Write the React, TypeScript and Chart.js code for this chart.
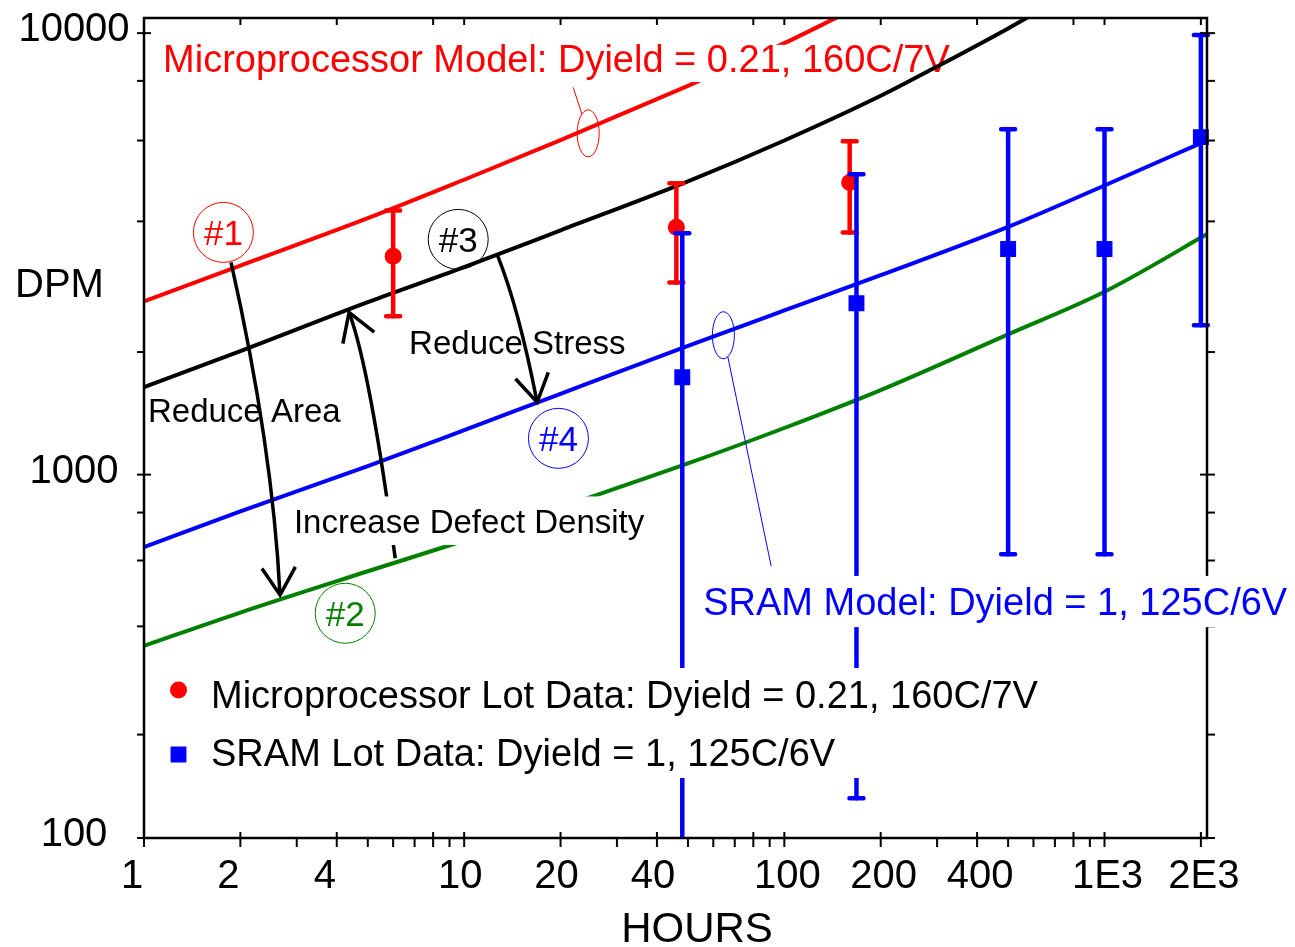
import React, { useEffect, useRef } from 'react';
import { Chart, Scale, registerables } from 'chart.js';

// ---------------------------------------------------------------------------
// Burn-in fallout (DPM) vs. stress hours, plotted on a normal-probability
// DPM axis against logarithmic hours.
// ---------------------------------------------------------------------------

// Model curves
const case1Hours = [1, 2, 5, 10, 20, 50, 100, 150];
const case1Dpm = [2630, 3180, 4065, 4940, 6010, 7815, 9550, 10840];

const case2Hours = [1, 2, 5, 10, 20, 50, 100, 200, 500, 1000, 2000, 2090];
const case2Dpm = [354, 436, 562, 677, 825, 1067, 1308, 1620, 2203, 2770, 3680, 3750];

const case3Hours = [1, 2, 5, 10, 20, 50, 100, 200, 300, 500, 700];
const case3Dpm = [1646, 2010, 2620, 3154, 3820, 4900, 6000, 7450, 8560, 10220, 11550];

const case4Hours = [1, 2, 5, 10, 20, 50, 100, 200, 500, 1000, 2000];
const case4Dpm = [651, 806, 1051, 1292, 1587, 2068, 2507, 3024, 3889, 4800, 5925];

// Lot data with error bars
const microLotHours = [6, 46, 160];
const microLotDpm = [3340, 3883, 4870];
const microLotLow = [2430, 2910, 3780];
const microLotHigh = [4230, 4856, 5980];

const sramLotHours = [48, 168, 500, 1000, 2000];
const sramLotDpm = [1740, 2606, 3467, 3467, 6100];
const sramLotLow = [40, 131, 623, 623, 2314];
const sramLotHigh = [3763, 5080, 6340, 6340, 9910];

// Axis ticks
const xMajorTicks = [1, 2, 4, 8, 10, 20, 40, 80, 100, 200, 400, 800, 1000, 2000];
const xMinorTicks = [3, 5, 6, 7, 9, 30, 50, 60, 70, 90, 300, 500, 600, 700, 900];
const xLabelValues = [1, 2, 4, 10, 20, 40, 100, 200, 400, 1000, 2000];
const xLabelText = ['1', '2', '4', '10', '20', '40', '100', '200', '400', '1E3', '2E3'];

const yMajorTicks = [100, 1000, 10000];
const yMinorTicks = [200, 400, 600, 800, 2000, 4000, 6000, 8000];
const yLabelText = ['100', '1000', '10000'];

const X_MIN = 1;
const X_MAX = 2090;
const Y_MIN = 100;
const Y_MAX = 10720;

// Text
const microModelLabel = 'Microprocessor Model: Dyield = 0.21, 160C/7V';
const sramModelLabel = 'SRAM Model: Dyield = 1, 125C/6V';
const microLotLabel = 'Microprocessor Lot Data: Dyield = 0.21, 160C/7V';
const sramLotLabel = 'SRAM Lot Data: Dyield = 1, 125C/6V';

// Annotation anchors, in data units [hours, DPM]
const microLabelAt = [1.147, 8340];
const sramLabelAt = [55.8, 429];
const reduceAreaAt = [1.029, 1352];
const reduceStressAt = [6.73, 1977];
const defectDensityAt = [2.94, 708];

const case1MarkAt = [1.77, 3780];
const case2MarkAt = [4.25, 434];
const case3MarkAt = [9.58, 3646];
const case4MarkAt = [19.7, 1233];

// start, control, tip
const reduceAreaArrow = [[1.87, 3236], [2.52, 1178], [2.66, 486]];
const defectDensityArrow = [[6.09, 608], [5.09, 1817], [4.37, 2482]];
const reduceStressArrow = [[12.7, 3360], [14.8, 2540], [16.9, 1513]];

const microCalloutCenter = [24.4, 6215];
const microCalloutTail = [21.9, 7760];
const sramCalloutCenter = [64.5, 2192];
const sramCalloutTail = [91.0, 579];

// Styles
const RED = '#ff0000';
const BLUE = '#0000ff';
const GREEN = '#008000';
const BLACK = '#000000';
const FONT_FAMILY = '"Liberation Sans", Arial, Helvetica, sans-serif';
const font = (size: number) => `${size}px ${FONT_FAMILY}`;
const X_LABEL_NUDGE: Record<number, number> = { 1: -12, 2: -4, 3: 3 };

// Dataset indices
const DS_CASE1 = 0;
const DS_CASE3 = 1;
const DS_CASE4 = 2;
const DS_CASE2 = 3;
const DS_MICRO_LOT = 4;
const DS_SRAM_LOT = 5;

// ---------------------------------------------------------------------------
// Normal-probability helpers
// ---------------------------------------------------------------------------
function probit(p: number): number {
  const a = [-3.969683028665376e1, 2.209460984245205e2, -2.759285104469687e2, 1.38357751867269e2, -3.066479806614716e1, 2.506628277459239];
  const b = [-5.447609879822406e1, 1.615858368580409e2, -1.556989798598866e2, 6.680131188771972e1, -1.328068155288572e1];
  const c = [-7.784894002430293e-3, -3.223964580411365e-1, -2.400758277161838, -2.549732539343734, 4.374664141464968, 2.938163982698783];
  const d = [7.784695709041462e-3, 3.224671290700398e-1, 2.445134137142996, 3.754408661907416];
  const pLow = 0.02425;
  if (p <= 0) return -40;
  if (p >= 1) return 40;
  if (p < pLow) {
    const q = Math.sqrt(-2 * Math.log(p));
    return (((((c[0] * q + c[1]) * q + c[2]) * q + c[3]) * q + c[4]) * q + c[5]) /
      ((((d[0] * q + d[1]) * q + d[2]) * q + d[3]) * q + 1);
  }
  if (p <= 1 - pLow) {
    const q = p - 0.5;
    const r = q * q;
    return ((((((a[0] * r + a[1]) * r + a[2]) * r + a[3]) * r + a[4]) * r + a[5]) * q) /
      (((((b[0] * r + b[1]) * r + b[2]) * r + b[3]) * r + b[4]) * r + 1);
  }
  const q = Math.sqrt(-2 * Math.log(1 - p));
  return -(((((c[0] * q + c[1]) * q + c[2]) * q + c[3]) * q + c[4]) * q + c[5]) /
    ((((d[0] * q + d[1]) * q + d[2]) * q + d[3]) * q + 1);
}

function normCdf(z: number): number {
  const t = 1 / (1 + 0.2316419 * Math.abs(z));
  const poly = t * (0.31938153 + t * (-0.356563782 + t * (1.781477937 + t * (-1.821255978 + t * 1.330274429))));
  const tail = Math.exp(-z * z / 2) / Math.sqrt(2 * Math.PI) * poly;
  return z < 0 ? tail : 1 - tail;
}

// Chart.js scale: DPM on a normal-probability (probit) axis
class ProbitScale extends Scale {
  static id = 'probit';
  static defaults = {};

  determineDataLimits() {
    const { min, max } = (this as any).getUserBounds();
    (this as any).min = min;
    (this as any).max = max;
  }

  buildTicks() {
    return yMajorTicks.map((value) => ({ value }));
  }

  getLabelForValue(value: number) {
    return String(value);
  }

  configure() {
    super.configure();
    const self = this as any;
    self._zMin = probit(self.min / 1e6);
    self._zSpan = probit(self.max / 1e6) - self._zMin;
  }

  getPixelForValue(value: number) {
    const self = this as any;
    const v = Math.max(Number(value), 1e-3);
    return self.getPixelForDecimal((probit(v / 1e6) - self._zMin) / self._zSpan);
  }

  getValueForPixel(pixel: number) {
    const self = this as any;
    return 1e6 * normCdf(self._zMin + self.getDecimalForPixel(pixel) * self._zSpan);
  }
}

Chart.register(...registerables, ProbitScale as any);

// ---------------------------------------------------------------------------
// Drawing helpers
// ---------------------------------------------------------------------------
type Pt = { x: number; y: number };

function toPx(chart: any, at: number[]): Pt {
  return { x: chart.scales.x.getPixelForValue(at[0]), y: chart.scales.y.getPixelForValue(at[1]) };
}

function capHeight(size: number) {
  return size * 0.716;
}

function boxedText(ctx: CanvasRenderingContext2D, str: string, x: number, base: number, size: number,
  color: string, padTop: number, padBottom: number, padX: number) {
  ctx.font = font(size);
  const w = ctx.measureText(str).width;
  const cap = capHeight(size);
  ctx.fillStyle = '#ffffff';
  ctx.fillRect(x - padX, base - cap - padTop, w + 2 * padX, cap + padTop + padBottom);
  ctx.fillStyle = color;
  ctx.textAlign = 'left';
  ctx.textBaseline = 'alphabetic';
  ctx.fillText(str, x, base);
}

function plainText(ctx: CanvasRenderingContext2D, str: string, x: number, base: number, size: number, color: string) {
  ctx.font = font(size);
  ctx.fillStyle = color;
  ctx.textAlign = 'left';
  ctx.textBaseline = 'alphabetic';
  ctx.fillText(str, x, base);
}

function drawErrorBars(chart: any, hours: number[], low: number[], high: number[], color: string) {
  const { ctx, chartArea: a, scales } = chart;
  ctx.save();
  ctx.beginPath();
  ctx.rect(a.left - 8, a.top - 8, a.right - a.left + 16, a.bottom - a.top + 8);
  ctx.clip();
  ctx.strokeStyle = color;
  ctx.lineWidth = 4.5;
  ctx.lineCap = 'round';
  hours.forEach((h, i) => {
    const x = scales.x.getPixelForValue(h);
    const yl = scales.y.getPixelForValue(low[i]);
    const yh = scales.y.getPixelForValue(high[i]);
    ctx.beginPath();
    ctx.moveTo(x, yl);
    ctx.lineTo(x, yh);
    ctx.stroke();
    ctx.beginPath();
    ctx.moveTo(x - 7, yh);
    ctx.lineTo(x + 7, yh);
    if (yl < a.bottom) {
      ctx.moveTo(x - 7, yl);
      ctx.lineTo(x + 7, yl);
    }
    ctx.stroke();
  });
  ctx.restore();
}

function drawCallout(chart: any, center: number[], tail: number[], color: string) {
  const ctx = chart.ctx as CanvasRenderingContext2D;
  const c = toPx(chart, center);
  const t = toPx(chart, tail);
  const rx = 11;
  const ry = 23.5;
  ctx.strokeStyle = color;
  ctx.lineWidth = 1;
  ctx.beginPath();
  ctx.ellipse(c.x, c.y, rx, ry, 0, 0, Math.PI * 2);
  ctx.stroke();
  const dx = t.x - c.x;
  const dy = t.y - c.y;
  const s = 1 / Math.sqrt((dx / rx) ** 2 + (dy / ry) ** 2);
  ctx.beginPath();
  ctx.moveTo(c.x + dx * s, c.y + dy * s);
  ctx.lineTo(t.x, t.y);
  ctx.stroke();
}

function drawCurvedArrow(chart: any, pts: number[][]) {
  const ctx = chart.ctx as CanvasRenderingContext2D;
  const [p0, c, p1] = pts.map((p) => toPx(chart, p));
  ctx.strokeStyle = BLACK;
  ctx.lineWidth = 3.5;
  ctx.lineCap = 'butt';
  ctx.lineJoin = 'miter';
  ctx.beginPath();
  ctx.moveTo(p0.x, p0.y);
  ctx.quadraticCurveTo(c.x, c.y, p1.x, p1.y);
  ctx.stroke();
  const ang = Math.atan2(p1.y - c.y, p1.x - c.x);
  const len = 32;
  const spread = 0.55;
  ctx.beginPath();
  ctx.moveTo(p1.x - len * Math.cos(ang - spread), p1.y - len * Math.sin(ang - spread));
  ctx.lineTo(p1.x, p1.y);
  ctx.lineTo(p1.x - len * Math.cos(ang + spread), p1.y - len * Math.sin(ang + spread));
  ctx.stroke();
}

function drawCaseMark(chart: any, at: number[], label: string, color: string) {
  const ctx = chart.ctx as CanvasRenderingContext2D;
  const p = toPx(chart, at);
  ctx.strokeStyle = color;
  ctx.lineWidth = 1;
  ctx.beginPath();
  ctx.arc(p.x, p.y, 30, 0, Math.PI * 2);
  ctx.stroke();
  ctx.font = font(35);
  ctx.fillStyle = color;
  ctx.textAlign = 'center';
  ctx.textBaseline = 'alphabetic';
  ctx.fillText(label, p.x, p.y + capHeight(35) / 2);
}

function drawMicroLabel(chart: any) {
  const ctx = chart.ctx as CanvasRenderingContext2D;
  const p = toPx(chart, microLabelAt);
  ctx.save();
  boxedText(ctx, microModelLabel, p.x, p.y, 38, RED, 0, 10, 3);
  ctx.restore();
}

function drawAnnotations(chart: any) {
  const ctx = chart.ctx as CanvasRenderingContext2D;
  ctx.save();
  drawCallout(chart, microCalloutCenter, microCalloutTail, RED);
  drawCallout(chart, sramCalloutCenter, sramCalloutTail, BLUE);

  drawCurvedArrow(chart, reduceAreaArrow);
  drawCurvedArrow(chart, defectDensityArrow);
  drawCurvedArrow(chart, reduceStressArrow);

  const ra = toPx(chart, reduceAreaAt);
  plainText(ctx, 'Reduce Area', ra.x, ra.y, 33, BLACK);
  const rs = toPx(chart, reduceStressAt);
  plainText(ctx, 'Reduce Stress', rs.x, rs.y, 33, BLACK);
  const dd = toPx(chart, defectDensityAt);
  boxedText(ctx, 'Increase Defect Density', dd.x, dd.y, 33, BLACK, 13, 12, 4);

  drawCaseMark(chart, case1MarkAt, '#1', RED);
  drawCaseMark(chart, case2MarkAt, '#2', GREEN);
  drawCaseMark(chart, case3MarkAt, '#3', BLACK);
  drawCaseMark(chart, case4MarkAt, '#4', BLUE);
  ctx.restore();
}

function drawAxes(chart: any) {
  const { chartArea: a, scales } = chart;
  const ctx = chart.ctx as CanvasRenderingContext2D;
  const xs = scales.x;
  const ys = scales.y;
  ctx.save();
  ctx.strokeStyle = BLACK;
  ctx.lineCap = 'butt';
  ctx.lineWidth = 2;
  const seg = (x1: number, y1: number, x2: number, y2: number) => {
    ctx.beginPath();
    ctx.moveTo(x1, y1);
    ctx.lineTo(x2, y2);
    ctx.stroke();
  };
  yMajorTicks.forEach((v) => {
    const y = ys.getPixelForValue(v);
    seg(a.left - 7, y, a.left + 7, y);
    seg(a.right - 7, y, a.right + 8, y);
  });
  yMinorTicks.forEach((v) => {
    const y = ys.getPixelForValue(v);
    seg(a.left - 7, y, a.left, y);
    seg(a.right, y, a.right + 8, y);
  });
  xMajorTicks.forEach((v) => {
    const x = xs.getPixelForValue(v);
    seg(x, a.bottom - 6, x, a.bottom + 9);
    seg(x, a.top, x, a.top + 7);
  });
  xMinorTicks.forEach((v) => {
    const x = xs.getPixelForValue(v);
    seg(x, a.bottom, x, a.bottom + 9);
  });
  ctx.lineWidth = 2.5;
  ctx.strokeRect(a.left, a.top, a.right - a.left, a.bottom - a.top);

  ctx.fillStyle = BLACK;
  ctx.font = font(40);
  ctx.textBaseline = 'alphabetic';
  ctx.textAlign = 'center';
  yMajorTicks.forEach((v, i) => {
    ctx.fillText(yLabelText[i], a.left - 70, ys.getPixelForValue(v) + 8);
  });
  xLabelValues.forEach((v, i) => {
    const t = xLabelText[i];
    ctx.fillText(t, xs.getPixelForValue(v) + (X_LABEL_NUDGE[t.length] || 0), a.bottom + 50);
  });
  ctx.textAlign = 'left';
  ctx.fillText('DPM', a.left - 129, a.top + 279);
  ctx.font = font(42);
  ctx.textAlign = 'center';
  ctx.fillText('HOURS', a.left + 553, a.bottom + 104);
  ctx.restore();
}

function drawSramLabel(chart: any) {
  const ctx = chart.ctx as CanvasRenderingContext2D;
  const p = toPx(chart, sramLabelAt);
  ctx.save();
  boxedText(ctx, sramModelLabel, p.x, p.y, 38, BLUE, 12, 12, 3);
  ctx.restore();
}

function drawLegend(chart: any) {
  const { chartArea: a } = chart;
  const ctx = chart.ctx as CanvasRenderingContext2D;
  ctx.save();
  const markerX = a.left + 34.5;
  const textX = a.left + 67;
  const row1 = a.top + 690;
  const row2 = a.top + 748;
  ctx.font = font(38);
  const w = Math.max(ctx.measureText(microLotLabel).width, ctx.measureText(sramLotLabel).width);
  ctx.fillStyle = '#ffffff';
  ctx.fillRect(a.left + 18, a.top + 650, textX + w + 8 - (a.left + 18), 110);

  ctx.fillStyle = RED;
  ctx.beginPath();
  ctx.arc(markerX, a.top + 672, 8.5, 0, Math.PI * 2);
  ctx.fill();
  ctx.fillStyle = BLUE;
  ctx.strokeStyle = BLUE;
  ctx.lineWidth = 1.5;
  ctx.lineJoin = 'round';
  ctx.beginPath();
  ctx.rect(markerX - 7.2, a.top + 736.5 - 7.2, 14.4, 14.4);
  ctx.fill();
  ctx.stroke();

  plainText(ctx, microLotLabel, textX, row1, 38, BLACK);
  plainText(ctx, sramLotLabel, textX, row2, 38, BLACK);
  ctx.restore();
}

const overlayPlugin = {
  id: 'burninOverlay',
  beforeDatasetDraw(chart: any, args: any) {
    if (args.index === DS_MICRO_LOT) drawErrorBars(chart, microLotHours, microLotLow, microLotHigh, RED);
    if (args.index === DS_SRAM_LOT) drawErrorBars(chart, sramLotHours, sramLotLow, sramLotHigh, BLUE);
  },
  afterDatasetDraw(chart: any, args: any) {
    if (args.index === DS_CASE1) drawMicroLabel(chart);
    if (args.index === DS_CASE2) drawAnnotations(chart);
  },
  afterDatasetsDraw(chart: any) {
    drawAxes(chart);
    drawSramLabel(chart);
    drawLegend(chart);
  },
};

const pairs = (xs: number[], ys: number[]) => xs.map((x, i) => ({ x, y: ys[i] }));

function modelLine(label: string, hours: number[], dpm: number[], color: string, order: number) {
  return {
    label,
    data: pairs(hours, dpm),
    borderColor: color,
    backgroundColor: color,
    borderWidth: 4,
    pointRadius: 0,
    cubicInterpolationMode: 'monotone' as const,
    fill: false,
    order,
  };
}

export default function App() {
  const canvasRef = useRef<HTMLCanvasElement>(null);

  useEffect(() => {
    const canvas = canvasRef.current;
    if (!canvas) return;
    const datasets: any[] = [];
    datasets[DS_CASE1] = modelLine('#1 Microprocessor model', case1Hours, case1Dpm, RED, 6);
    datasets[DS_CASE3] = modelLine('#3', case3Hours, case3Dpm, BLACK, 5);
    datasets[DS_CASE4] = modelLine('#4 SRAM model', case4Hours, case4Dpm, BLUE, 4);
    datasets[DS_CASE2] = modelLine('#2', case2Hours, case2Dpm, GREEN, 3);
    datasets[DS_MICRO_LOT] = {
      label: microLotLabel,
      data: pairs(microLotHours, microLotDpm),
      showLine: false,
      pointStyle: 'circle',
      pointRadius: 8.5,
      pointBackgroundColor: RED,
      pointBorderColor: RED,
      pointBorderWidth: 0,
      clip: 8,
      order: 2,
    };
    datasets[DS_SRAM_LOT] = {
      label: sramLotLabel,
      data: pairs(sramLotHours, sramLotDpm),
      showLine: false,
      pointStyle: 'rect',
      pointRadius: 10.2,
      pointBackgroundColor: BLUE,
      pointBorderColor: BLUE,
      pointBorderWidth: 1.5,
      clip: 8,
      order: 1,
    };

    const chart = new Chart(canvas, {
      type: 'line',
      data: { datasets },
      options: {
        responsive: false,
        animation: false,
        events: [],
        layout: { padding: { left: 144, top: 18, right: 88, bottom: 109 } },
        plugins: { legend: { display: false }, tooltip: { enabled: false } },
        scales: {
          x: { type: 'logarithmic', min: X_MIN, max: X_MAX, display: false },
          y: { type: 'probit', min: Y_MIN, max: Y_MAX, display: false } as any,
        },
      },
      plugins: [overlayPlugin],
    } as any);
    return () => chart.destroy();
  }, []);

  return (
    <div style={{ position: 'absolute', left: 0, top: 0, width: 1295, height: 947, background: '#ffffff' }}>
      <canvas ref={canvasRef} width={1295} height={947} style={{ display: 'block', width: 1295, height: 947 }} />
    </div>
  );
}
